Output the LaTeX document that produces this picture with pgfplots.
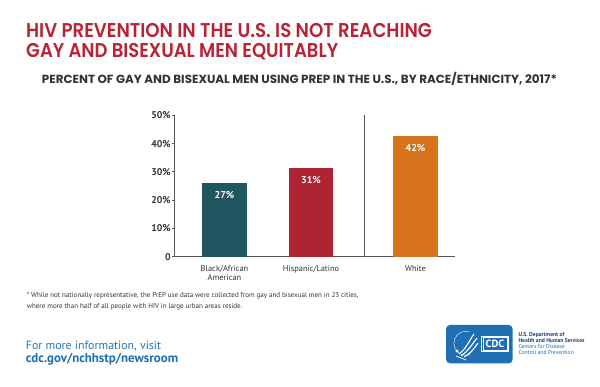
\documentclass[border=0pt]{standalone}
\usepackage{pgfplots}
\pgfplotsset{compat=1.18}
\usepackage{fontspec}
\usepackage{graphicx}
\setmainfont{PT Sans}
\newfontfamily\titlefont{Poppins SemiBold}
\newfontfamily\subfont{Poppins Bold}
\definecolor{titlered}{HTML}{BA2236}
\definecolor{barteal}{HTML}{1F5660}
\definecolor{barred}{HTML}{AF2432}
\definecolor{barorange}{HTML}{D6731C}
\definecolor{axisgray}{HTML}{555555}
\definecolor{textgray}{HTML}{333333}
\definecolor{linkblue}{HTML}{2378BE}
\definecolor{logoblue}{HTML}{1E6FB3}
\definecolor{navy}{HTML}{1D3C78}
\newlength\natw
\newlength\capht
% fit text to a given width and cap height
\newcommand\fitcap[4]{\begingroup#1\fontsize{10}{12}\selectfont
  \setlength\capht{\fontcharht\font`H}%
  \pgfmathsetmacro\fsz{10*#3/\capht}%
  \fontsize{\fsz}{\fsz}\selectfont
  \settowidth\natw{#4}%
  \pgfmathsetmacro\sx{#2/\natw}%
  \scalebox{\sx}[1]{#4}\endgroup}
% compute font size so that text has given width
\newcommand\sizefor[4]{\begingroup#2\fontsize{10}{12}\selectfont
  \settowidth\natw{#4}%
  \pgfmathsetmacro\tmp{10*#3/\natw}%
  \global\let#1\tmp\endgroup}
\pgfplotstableread{
x y
224.5 26.2
}\tblack
\pgfplotstableread{
x y
311 31.4
}\thisp
\pgfplotstableread{
x y
415.5 42.8
}\twhite
\begin{document}%
\sizefor\fnsz{\normalfont}{331.6}{* While not nationally representative, the PrEP use data were collected from gay and bisexual men in 23 cities,}%
\sizefor\infosz{\normalfont}{135.3}{For more information, visit}%
\sizefor\linksz{\bfseries}{152.3}{cdc.gov/nchhstp/newsroom}%
\sizefor\logosz{\bfseries}{66}{Health and Human Services}%
\begin{tikzpicture}[x=1pt,y=1pt]
\useasboundingbox (0,0) rectangle (600,387);
\fill[white] (0,0) rectangle (600,387);
% titles
\node[anchor=base west, inner sep=0pt, text=titlered] at (26,349.7)
  {\fitcap{\titlefont}{405.7}{14}{HIV PREVENTION IN THE U.S. IS NOT REACHING}};
\node[anchor=base west, inner sep=0pt, text=titlered] at (26,329.7)
  {\fitcap{\titlefont}{312}{14}{GAY AND BISEXUAL MEN EQUITABLY}};
\node[anchor=base west, inner sep=0pt, text=textgray] at (41.7,303)
  {\fitcap{\subfont}{515}{8.3}{PERCENT OF GAY AND BISEXUAL MEN USING PREP IN THE U.S., BY RACE/ETHNICITY, 2017*}};
\begin{axis}[
  at={(174.3pt,130.3pt)}, anchor=south west,
  scale only axis, width=280.7pt, height=141.4pt,
  xmin=174.3, xmax=455, ymin=0, ymax=50,
  axis lines=left, axis line style={-, draw=axisgray, line width=0.8pt},
  clip=false,
  xtick={224.5,311,415.5},
  xticklabels={{Black/African\\American},{Hispanic/Latino},{White}},
  xtick style={draw=none},
  xticklabel style={align=center, anchor=north, inner sep=0pt, yshift=-6.5pt,
    font=\fontsize{8.4}{8.3}\selectfont, text=textgray},
  ytick={0,10,20,30,40,50},
  yticklabels={0,10\%,20\%,30\%,40\%,50\%},
  tick align=outside, major tick length=2.5pt,
  ytick style={draw=axisgray, line width=0.8pt},
  yticklabel style={font=\bfseries\fontsize{9.8}{9.8}\selectfont, text=textgray, inner sep=1pt},
  every node near coord/.style={anchor=center, yshift=-12pt, text=white,
    font=\bfseries\fontsize{10}{10}\selectfont},
]
\addplot[ybar, bar width=45.5pt, fill=barteal, draw=none, nodes near coords={27\%}] table[x=x,y=y] {\tblack};
\addplot[ybar, bar width=44.6pt, fill=barred, draw=none, nodes near coords={31\%}] table[x=x,y=y] {\thisp};
\addplot[ybar, bar width=44.4pt, fill=barorange, draw=none, nodes near coords={42\%}] table[x=x,y=y] {\twhite};
\addplot[draw=axisgray, line width=0.8pt, mark=none] coordinates {(364.3,0) (364.3,50)};
\end{axis}
% footnote
\node[anchor=base west, inner sep=0pt, text=textgray] at (26.7,89.3)
  {\fontsize{\fnsz}{\fnsz}\selectfont * While not nationally representative, the PrEP use data were collected from gay and bisexual men in 23 cities,};
\node[anchor=base west, inner sep=0pt, text=textgray] at (26.7,78.3)
  {\fontsize{\fnsz}{\fnsz}\selectfont where more than half of all people with HIV in large urban areas reside.};
% more information
\node[anchor=base west, inner sep=0pt, text=linkblue] at (25.7,37.5)
  {\fontsize{\infosz}{\infosz}\selectfont For more information, visit};
\node[anchor=base west, inner sep=0pt, text=logoblue] at (25.7,24.5)
  {\fontsize{\linksz}{\linksz}\selectfont\bfseries cdc.gov/nchhstp/newsroom};
% logo
\fill[logoblue, rounded corners=4pt] (446,23.7) rectangle (512.7,62);
\draw[white, line width=0.6pt] (481.7,35.3) rectangle (508.3,51);
\draw[white, line width=0.3pt] (483,36.6) rectangle (507,49.7);
\node[text=white, inner sep=0pt] at (495,43.1) {\bfseries\fontsize{10.5}{10.5}\selectfont CDC};
\draw[white, line width=0.4pt] (470,55) arc[start angle=70, end angle=290, radius=12];
\draw[white, line width=1.1pt] (459,33) .. controls (465,37) and (468,44) .. (474,53);
\draw[white, line width=1.1pt] (461,31) .. controls (467,35) and (471,41) .. (477,49);
\draw[white, line width=1.1pt] (464,30) .. controls (470,33) and (473,37) .. (478,44);
\fill[white] (457,36) circle (1.6);
\draw[white, line width=0.8pt] (456,31) -- (466,27);
\node[anchor=base west, inner sep=0pt, text=navy] at (518.3,50.5)
  {\fontsize{\logosz}{\logosz}\selectfont\bfseries U.S. Department of};
\node[anchor=base west, inner sep=0pt, text=navy] at (518.3,44.8)
  {\fontsize{\logosz}{\logosz}\selectfont\bfseries Health and Human Services};
\node[anchor=base west, inner sep=0pt, text=logoblue] at (518.3,38.8)
  {\fontsize{\logosz}{\logosz}\selectfont Centers for Disease};
\node[anchor=base west, inner sep=0pt, text=logoblue] at (518.3,32.8)
  {\fontsize{\logosz}{\logosz}\selectfont Control and Prevention};
\end{tikzpicture}
\end{document}
